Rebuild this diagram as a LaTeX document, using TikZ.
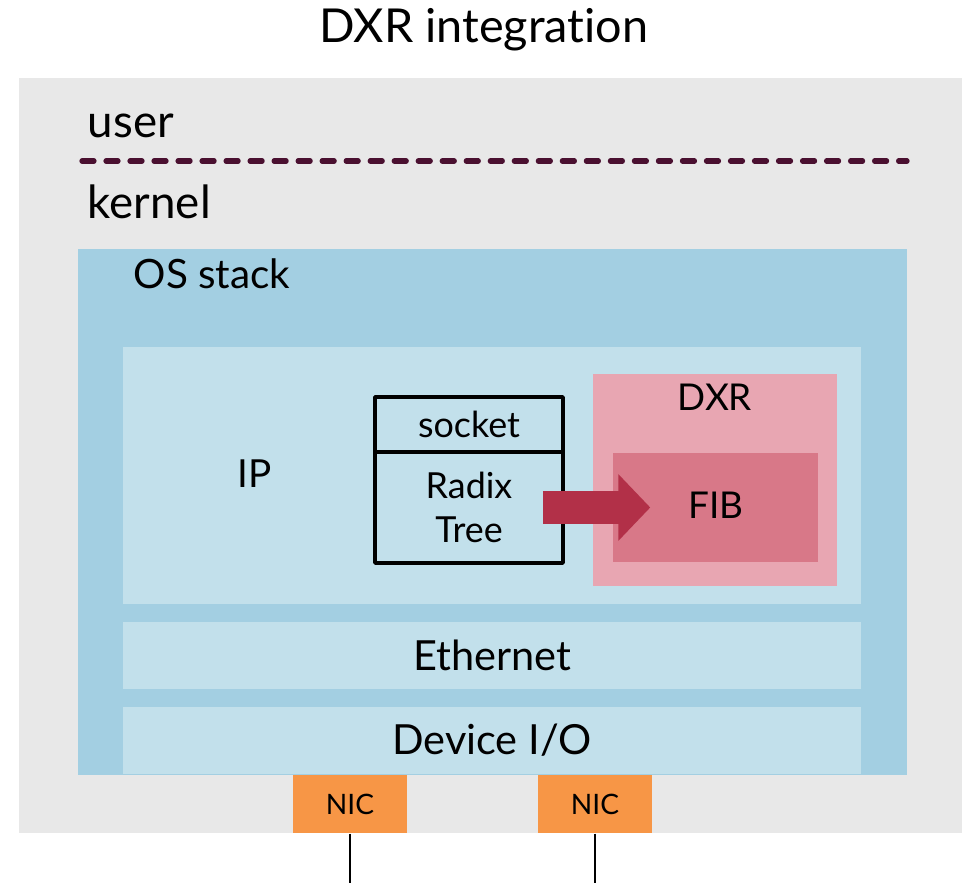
\documentclass[tikz,border=0pt]{standalone}
\usepackage{fontspec}
\setmainfont[Ligatures=NoCommon]{Lato}
\usetikzlibrary{arrows.meta}

\definecolor{kerngray}{HTML}{E8E8E8}
\definecolor{osblue}{HTML}{A3CFE2}
\definecolor{layerblue}{HTML}{C2E0EB}
\definecolor{dxrpink}{HTML}{E8A6B2}
\definecolor{fibpink}{HTML}{D87888}
\definecolor{arrowred}{HTML}{B23048}
\definecolor{nicorange}{HTML}{F79646}
\definecolor{splitline}{HTML}{4A1030}

\tikzset{
  block/.style={rectangle,inner sep=0pt,draw=none},
  lbl/.style={inner sep=0pt,font=\fontsize{10.5}{12}\selectfont},
  layer/.style={block,fill=layerblue,minimum width=7.38cm,minimum height=0.67cm,font=\fontsize{11.8}{14}\selectfont},
}

\begin{document}
\begin{tikzpicture}[line cap=round,line join=round,x=0.01cm,y=-0.01cm]
	\useasboundingbox (0,0) rectangle (964,883);
	\node[lbl,font=\fontsize{13.3}{16}\selectfont] (title) at (484,30) {DXR integration};
	% machine
	\node[block,fill=kerngray,minimum width=9.43cm,minimum height=7.55cm] (host) at (490.5,455.5) {};
	\node[lbl,anchor=west,font=\fontsize{13}{15}\selectfont] (user) at (87,126) {user};
	\node[lbl,anchor=west,font=\fontsize{13}{15}\selectfont] (kernel) at (87,202) {kernel};
	\draw[splitline,line width=1.5pt,dash pattern=on 3.4pt off 3.43pt] (82,161) -- (907,161);
	% OS stack
	\node[block,fill=osblue,minimum width=8.29cm,minimum height=5.26cm] (os) at (492.5,512) {};
	\node[lbl,anchor=west,font=\fontsize{11.5}{14}\selectfont] (oslbl) at (133,274) {OS stack};
	\node[block,fill=layerblue,minimum width=7.38cm,minimum height=2.57cm] (ip) at (492,475.5) {};
	\node[lbl,font=\fontsize{11}{13}\selectfont] (iplbl) at (255,474) {IP};
	\node[layer] (eth) at (492,655.5) {Ethernet};
	\node[layer] (dev) at (492,740.5) {Device I/O};
	% socket / radix
	\node[block,draw=black,line width=1pt,minimum width=1.88cm,minimum height=0.55cm,font=\fontsize{10.2}{12}\selectfont] (socket) at (469,424.5) {socket};
	\node[block,draw=black,line width=1pt,minimum width=1.88cm,minimum height=1.11cm,align=center,font=\fontsize{10.2}{12.5}\selectfont] (radix) at (469,507.5) {Radix\\Tree};
	% DXR
	\node[block,fill=dxrpink,minimum width=2.44cm,minimum height=2.12cm] (dxr) at (715,480) {};
	\node[lbl] (dxrlbl) at (715,397) {DXR};
	\node[block,fill=fibpink,minimum width=2.05cm,minimum height=1.09cm] (fib) at (715.5,507.5) {};
	\node[lbl] (fiblbl) at (716,505) {FIB};
	\draw[arrowred,line width=0.32cm,line cap=butt,-{Triangle[length=0.32cm,width=0.65cm]}] ([xshift=-0.22cm]radix.east) -- ([xshift=0.38cm]fib.west);
	% NICs
	\node[block,fill=nicorange,minimum width=1.14cm,minimum height=0.58cm,font=\fontsize{8}{10}\selectfont] (nicA) at (350,804) {NIC};
	\node[block,fill=nicorange,minimum width=1.14cm,minimum height=0.58cm,font=\fontsize{8}{10}\selectfont] (nicB) at (595,804) {NIC};
	\coordinate (wireA) at (350,883);
	\coordinate (wireB) at (595,883);
	\draw[line width=0.8pt,line cap=butt] (nicA.south) -- (wireA);
	\draw[line width=0.8pt,line cap=butt] (nicB.south) -- (wireB);
\end{tikzpicture}
\end{document}
